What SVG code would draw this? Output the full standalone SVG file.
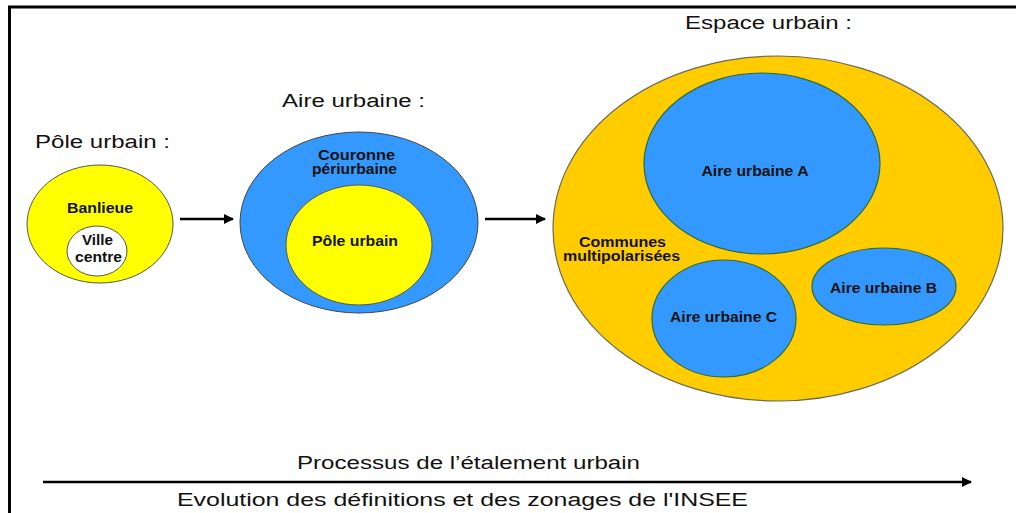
<svg xmlns="http://www.w3.org/2000/svg" width="1016" height="513" viewBox="0 0 1016 513">
<defs>
<marker id="ah" viewBox="0 0 10 10" refX="9" refY="5" markerWidth="4" markerHeight="4" orient="auto" markerUnits="strokeWidth">
<path d="M0,0 L10,5 L0,10 z" fill="#000"/>
</marker>
<style>
.lbl{font-family:"Liberation Sans",Arial,sans-serif;font-weight:bold;font-size:14px;fill:#111;text-anchor:middle}
.ttl{font-family:"Liberation Sans",Arial,sans-serif;font-size:18px;fill:#111}
.yel{fill:#ffff00;stroke:#555;stroke-width:1}
.blu{fill:#3399ff;stroke:#444;stroke-width:1}
.blu2{fill:#3399ff;stroke:#2d6b3a;stroke-width:1.2}
.org{fill:#ffcc00;stroke:#6b6b5a;stroke-width:1.2}
.wht{fill:#fff;stroke:#555;stroke-width:1}
.con{stroke:#000;stroke-width:2.5;fill:none;marker-end:url(#ah)}
</style>
</defs>
<rect width="1016" height="513" fill="#fff"/>
<path d="M9.5,513 V7 H1016" fill="none" stroke="#000" stroke-width="3"/>

<g id="pole-urbain">
<text class="ttl" x="35" y="148" textLength="135" lengthAdjust="spacingAndGlyphs">Pôle urbain :</text>
<ellipse class="yel" cx="100" cy="224" rx="73" ry="59"/>
<text class="lbl" x="100" y="213" textLength="66" lengthAdjust="spacingAndGlyphs">Banlieue</text>
<ellipse class="wht" cx="97" cy="251" rx="30" ry="25"/>
<text class="lbl" x="97.5" y="245" textLength="31" lengthAdjust="spacingAndGlyphs">Ville</text>
<text class="lbl" x="98.5" y="262" textLength="47" lengthAdjust="spacingAndGlyphs">centre</text>
</g>

<g id="aire-urbaine">
<text class="ttl" x="282" y="107" textLength="143" lengthAdjust="spacingAndGlyphs">Aire urbaine :</text>
<ellipse class="blu" cx="359" cy="222.5" rx="119" ry="90.5"/>
<text class="lbl" x="356.5" y="160" textLength="77" lengthAdjust="spacingAndGlyphs">Couronne</text>
<text class="lbl" x="354.5" y="174" textLength="85" lengthAdjust="spacingAndGlyphs">périurbaine</text>
<ellipse class="yel" cx="359" cy="245" rx="73" ry="60"/>
<text class="lbl" x="355" y="246" textLength="86" lengthAdjust="spacingAndGlyphs">Pôle urbain</text>
</g>

<g id="espace-urbain">
<text class="ttl" x="685" y="29" textLength="167" lengthAdjust="spacingAndGlyphs">Espace urbain :</text>
<ellipse class="org" cx="778" cy="228.5" rx="225" ry="172.5"/>
<text class="lbl" x="622.5" y="247" textLength="87" lengthAdjust="spacingAndGlyphs">Communes</text>
<text class="lbl" x="621.5" y="261" textLength="117" lengthAdjust="spacingAndGlyphs">multipolarisées</text>
</g>

<g id="aire-urbaine-a">
<ellipse class="blu2" cx="762" cy="163.5" rx="118" ry="90.5"/>
<text class="lbl" x="755" y="176" textLength="107" lengthAdjust="spacingAndGlyphs">Aire urbaine A</text>
</g>
<g id="aire-urbaine-b">
<ellipse class="blu2" cx="884" cy="286.5" rx="72" ry="38.5"/>
<text class="lbl" x="883.5" y="293" textLength="107" lengthAdjust="spacingAndGlyphs">Aire urbaine B</text>
</g>
<g id="aire-urbaine-c">
<ellipse class="blu2" cx="724" cy="318.5" rx="72" ry="58.5"/>
<text class="lbl" x="723.5" y="322" textLength="107" lengthAdjust="spacingAndGlyphs">Aire urbaine C</text>
</g>

<g id="connectors">
<line class="con" x1="180" y1="219" x2="233" y2="219"/>
<line class="con" x1="485" y1="219" x2="545" y2="219"/>
<line class="con" x1="43" y1="482" x2="971" y2="482"/>
</g>

<g id="process-labels">
<text class="ttl" x="297" y="469" textLength="343" lengthAdjust="spacingAndGlyphs">Processus de l’étalement urbain</text>
<text class="ttl" x="177" y="506" textLength="571" lengthAdjust="spacingAndGlyphs">Evolution des définitions et des zonages de l'INSEE</text>
</g>
</svg>
